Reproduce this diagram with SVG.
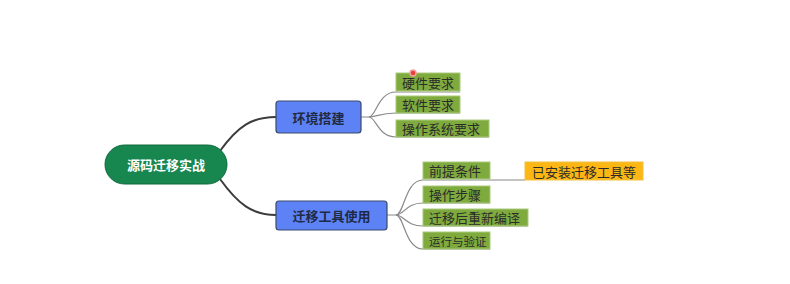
<svg xmlns="http://www.w3.org/2000/svg" width="790" height="284" viewBox="0 0 790 284">
<style>
.t{font-family:"Noto Sans CJK SC","Liberation Sans",sans-serif;font-size:13px;fill:#2b2b2b;dominant-baseline:central;}
.leaf rect{fill:#7fab3e;stroke:#a9c97a;stroke-width:1;}
.main rect{fill:#5d82f6;stroke:#3a4a6a;stroke-width:1.2;}
.mt{font-family:"Noto Sans CJK SC","Liberation Sans",sans-serif;font-size:13px;font-weight:bold;fill:#1f2a44;text-anchor:middle;dominant-baseline:central;}
.c1{fill:none;stroke:#3c3c3c;stroke-width:2;}
.c2{fill:none;stroke:#8a8a8a;stroke-width:1.2;}
</style>
<rect width="790" height="284" fill="#ffffff"/>
<g id="connectors">
<path class="c1" d="M220,151 C238,126 252,117 276,117"/>
<path class="c1" d="M220,179 C238,204 252,215 276,215"/>
<path class="c2" d="M361,117 H369 C376,117 378,92 396,92 H460"/>
<path class="c2" d="M369,117 C376,117 380,113 396,113 H460"/>
<path class="c2" d="M369,117 C376,117 378,137 396,137 H489"/>
<path class="c2" d="M387,215 H396 C404,215 405,180 423,180 H525"/>
<path class="c2" d="M396,215 C404,215 406,203 423,203 H490"/>
<path class="c2" d="M396,215 C404,215 406,226 423,226 H528"/>
<path class="c2" d="M396,215 C404,215 405,249 423,249 H490"/>
</g>
<g id="root">
<rect x="105" y="145" width="122" height="39" rx="19.5" fill="#17864f" stroke="#0f6a3c" stroke-width="1"/>
<text x="166" y="164.5" font-family="Noto Sans CJK SC,Liberation Sans,sans-serif" font-size="13" font-weight="bold" fill="#ffffff" text-anchor="middle" dominant-baseline="central">源码迁移实战</text>
</g>
<g id="n_env" class="main">
<rect x="276" y="101" width="85" height="32" rx="3"/>
<text class="mt" x="318.5" y="117">环境搭建</text>
</g>
<g id="n_tool" class="main">
<rect x="276" y="201" width="111" height="29" rx="3"/>
<text class="mt" x="331.5" y="215.5">迁移工具使用</text>
</g>
<g id="l_hw" class="leaf">
<rect x="396" y="73" width="64" height="18"/>
<text class="t" x="402" y="82">硬件要求</text>
</g>
<g id="l_sw" class="leaf">
<rect x="396" y="96" width="64" height="17"/>
<text class="t" x="402" y="104.5">软件要求</text>
</g>
<g id="l_os" class="leaf">
<rect x="396" y="120" width="93" height="17"/>
<text class="t" x="402" y="128.5">操作系统要求</text>
</g>
<g id="l_pre" class="leaf">
<rect x="423" y="162" width="67" height="17"/>
<text class="t" x="429" y="170.5">前提条件</text>
</g>
<g id="l_step" class="leaf">
<rect x="423" y="186" width="67" height="17"/>
<text class="t" x="429" y="194.5">操作步骤</text>
</g>
<g id="l_comp" class="leaf">
<rect x="423" y="209" width="105" height="17"/>
<text class="t" x="429" y="217.5">迁移后重新编译</text>
</g>
<g id="l_run" class="leaf">
<rect x="423" y="232" width="67" height="17"/>
<text class="t" x="429" y="240.5" style="font-size:11.5px">运行与验证</text>
</g>
<g id="l_installed">
<rect x="525" y="162" width="118" height="18" fill="#fdb714" stroke="#f0c040" stroke-width="1"/>
<text class="t" x="532" y="171">已安装迁移工具等</text>
</g>
<circle cx="413" cy="73" r="3" fill="#e8403a" stroke="#f5a0a0" stroke-width="1.5"/>
</svg>
